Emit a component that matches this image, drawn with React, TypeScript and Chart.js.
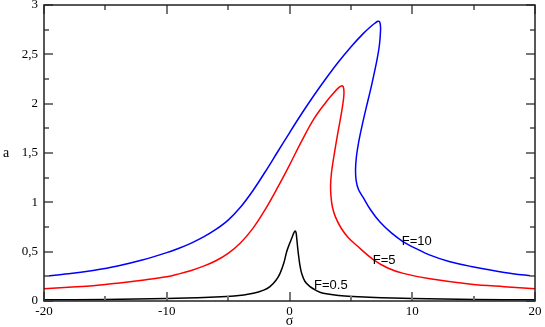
import { useEffect, useRef } from 'react';
import { Chart, registerables } from 'chart.js';

Chart.register(...registerables);

// F = 10 (blue)
const f10Sigma = [-20, -18, -16, -14, -12, -10, -9, -8, -7, -6, -5, -4, -3, -2, -1, 0, 1, 2, 3, 4, 5, 6, 6.6, 6.95, 7.2, 7.33, 7.4, 7.42, 7.33, 7.15, 6.92, 6.62, 6.25, 5.9, 5.62, 5.45, 5.38, 5.43, 5.62, 6.0, 6.6, 7.37, 8.3, 9.27, 10.4, 11.45, 13, 14.8, 17.5, 20];
const f10Amp = [0.25, 0.275, 0.31, 0.355, 0.415, 0.49, 0.535, 0.587, 0.649, 0.725, 0.82, 0.95, 1.115, 1.305, 1.505, 1.705, 1.9, 2.085, 2.26, 2.425, 2.575, 2.71, 2.78, 2.815, 2.835, 2.832, 2.8, 2.75, 2.6, 2.46, 2.32, 2.15, 1.96, 1.77, 1.6, 1.46, 1.33, 1.22, 1.13, 1.05, 0.925, 0.8, 0.69, 0.6, 0.525, 0.465, 0.4, 0.35, 0.29, 0.25];

// F = 5 (red)
const f5Sigma = [-20, -18, -16, -14, -12, -10, -9, -8, -7, -6, -5, -4, -3, -2, -1, 0, 1, 2, 3, 3.5, 3.9, 4.15, 4.32, 4.42, 4.42, 4.25, 4.02, 3.78, 3.57, 3.42, 3.35, 3.38, 3.5, 3.75, 4.2, 4.8, 5.5, 6.83, 8, 9.27, 11.45, 14.8, 17.5, 20];
const f5Amp = [0.125, 0.14, 0.155, 0.18, 0.21, 0.245, 0.275, 0.31, 0.353, 0.408, 0.483, 0.588, 0.733, 0.923, 1.143, 1.378, 1.623, 1.848, 2.02, 2.095, 2.15, 2.175, 2.18, 2.15, 2.07, 1.92, 1.76, 1.59, 1.43, 1.3, 1.18, 1.06, 0.95, 0.85, 0.74, 0.64, 0.56, 0.42, 0.335, 0.28, 0.225, 0.17, 0.145, 0.125];

// F = 0.5 (black)
const f05Sigma = [-20, -15, -10, -6.5, -4.5, -2.95, -2.1, -1.59, -1.1, -0.77, -0.45, -0.23, 0.0, 0.18, 0.35, 0.45, 0.53, 0.59, 0.65, 0.72, 0.85, 0.99, 1.25, 1.67, 2.2, 2.75, 4.5, 6.5, 10, 15, 20];
const f05Amp = [0.012, 0.016, 0.025, 0.038, 0.05, 0.078, 0.11, 0.145, 0.21, 0.28, 0.39, 0.5, 0.58, 0.635, 0.69, 0.71, 0.695, 0.635, 0.56, 0.48, 0.36, 0.28, 0.2, 0.145, 0.105, 0.078, 0.05, 0.038, 0.025, 0.016, 0.012];

// Axes
const xMajorTicks = [-20, -10, 0, 10, 20];
const xTickLabels = ['-20', '-10', '0', '10', '20'];
const xMinorTicks = [-15, -5, 5, 15];
const yMajorTicks = [0, 0.5, 1, 1.5, 2, 2.5, 3];
const yTickLabels = ['0', '0,5', '1', '1,5', '2', '2,5', '3'];
const yMinorTicks = [0.25, 0.75, 1.25, 1.75, 2.25, 2.75];

// Curve labels
const labelTexts = ['F=10', 'F=5', 'F=0.5'];
const labelSigma = [9.14, 6.78, 2.0];
const labelAmp = [0.568, 0.375, 0.119];

const toPoints = (xs: number[], ys: number[]) => xs.map((v, i) => ({ x: v, y: ys[i] }));

const decorPlugin = {
  id: 'decor',
  afterDraw(chart: any) {
    const { ctx, chartArea } = chart;
    const { left, right, top, bottom } = chartArea;
    const xs = chart.scales.x;
    const ys = chart.scales.y;
    ctx.save();
    // ticks (inward, on all sides)
    ctx.strokeStyle = '#777';
    ctx.lineWidth = 2;
    const xTick = (v: number, len: number) => {
      const px = Math.round(xs.getPixelForValue(v));
      ctx.beginPath();
      ctx.moveTo(px, bottom);
      ctx.lineTo(px, bottom - len);
      ctx.moveTo(px, top);
      ctx.lineTo(px, top + len);
      ctx.stroke();
    };
    const yTick = (v: number, len: number) => {
      const py = Math.round(ys.getPixelForValue(v));
      ctx.beginPath();
      ctx.moveTo(left, py);
      ctx.lineTo(left + len, py);
      ctx.moveTo(right, py);
      ctx.lineTo(right - len, py);
      ctx.stroke();
    };
    xMajorTicks.forEach((v) => xTick(v, 9));
    xMinorTicks.forEach((v) => xTick(v, 5));
    yMajorTicks.forEach((v) => yTick(v, 9));
    yMinorTicks.forEach((v) => yTick(v, 5));
    // frame
    ctx.strokeStyle = '#222';
    ctx.lineWidth = 1.5;
    ctx.strokeRect(left, top, right - left, bottom - top);
    // tick labels
    ctx.fillStyle = '#000';
    ctx.font = "13px 'Liberation Serif'";
    ctx.textAlign = 'center';
    ctx.textBaseline = 'top';
    xMajorTicks.forEach((v, i) => {
      ctx.fillText(xTickLabels[i], xs.getPixelForValue(v), bottom + 4);
    });
    ctx.textAlign = 'right';
    ctx.textBaseline = 'middle';
    yMajorTicks.forEach((v, i) => {
      ctx.fillText(yTickLabels[i], left - 6, ys.getPixelForValue(v));
    });
    // axis titles
    ctx.font = "14px 'Liberation Serif'";
    ctx.textAlign = 'center';
    ctx.textBaseline = 'alphabetic';
    ctx.fillText('a', 6, (top + bottom) / 2 + 4);
    ctx.fillText('σ', (left + right) / 2, 325);
    // curve labels
    ctx.font = "13px 'Liberation Sans'";
    ctx.textAlign = 'left';
    labelTexts.forEach((t, i) => {
      ctx.fillText(t, xs.getPixelForValue(labelSigma[i]), ys.getPixelForValue(labelAmp[i]));
    });
    ctx.restore();
  },
};

export default function App() {
  const canvasRef = useRef<HTMLCanvasElement | null>(null);

  useEffect(() => {
    if (!canvasRef.current) return;
    const common = { showLine: true, pointRadius: 0, borderWidth: 1.5, tension: 0.35, fill: false };
    const chart = new Chart(canvasRef.current, {
      type: 'scatter',
      data: {
        datasets: [
          { ...common, data: toPoints(f10Sigma, f10Amp), borderColor: '#0000ff' },
          { ...common, data: toPoints(f5Sigma, f5Amp), borderColor: '#ff0000' },
          { ...common, data: toPoints(f05Sigma, f05Amp), borderColor: '#000000' },
        ],
      },
      options: {
        animation: false,
        responsive: false,
        layout: { padding: { left: 44, right: 10, top: 5, bottom: 26 } },
        scales: {
          x: { type: 'linear', display: false, min: -20, max: 20 },
          y: { type: 'linear', display: false, min: 0, max: 3 },
        },
        plugins: { legend: { display: false }, tooltip: { enabled: false } },
      },
      plugins: [decorPlugin],
    } as any);
    return () => chart.destroy();
  }, []);

  return (
    <div style={{ position: 'fixed', left: 0, top: 0, width: 545, height: 327, background: '#fff' }}>
      <canvas ref={canvasRef} width={545} height={327} />
    </div>
  );
}
